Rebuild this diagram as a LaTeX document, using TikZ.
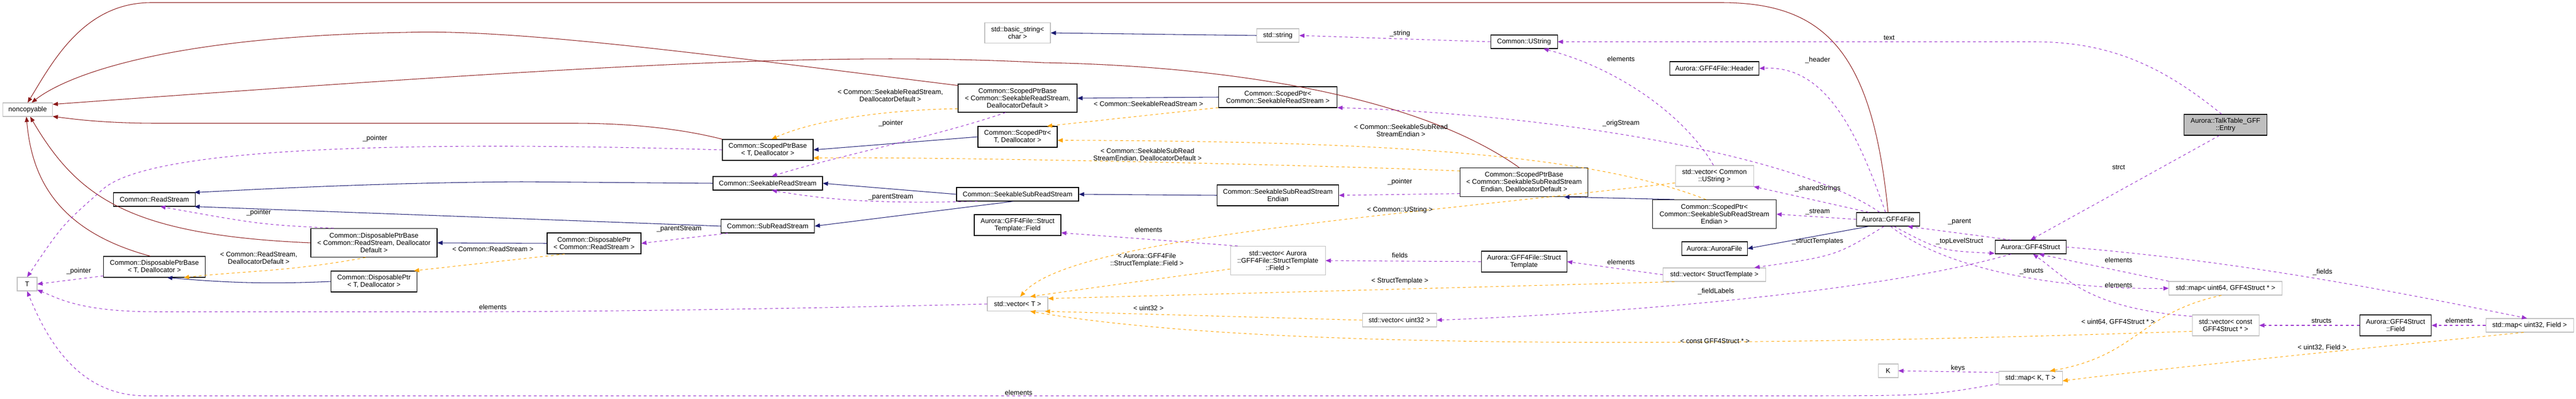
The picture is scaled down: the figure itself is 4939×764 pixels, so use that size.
\documentclass[tikz,border=0pt]{standalone}
\usepackage{fontspec}
\setmainfont{Liberation Sans}
\usetikzlibrary{arrows.meta}

\definecolor{inhcol}{HTML}{8B1A1A}
\definecolor{pubcol}{HTML}{191970}
\definecolor{usecol}{HTML}{9A32CD}
\definecolor{tplcol}{HTML}{FFA500}
\definecolor{extcol}{HTML}{BFBFBF}

\tikzset{
  box/.style={draw, line width=0.6pt, align=center, inner sep=1pt,
    font=\fontsize{7.4}{8}\selectfont},
  cls/.style={box, draw=black},
  ext/.style={box, draw=extcol},
  cur/.style={box, draw=black, fill=extcol},
  wh/.style 2 args={minimum width=#1*0.02cm, minimum height=#2*0.02cm},
  lbl/.style={font=\fontsize{7.4}{8}\selectfont, align=center, inner sep=0pt},
  tip/.style={-{Triangle[length=0.2cm,width=0.16cm]}},
  inh/.style={tip, draw=inhcol, fill=none, line width=0.6pt},
  pub/.style={tip, draw=pubcol, line width=0.6pt},
  use/.style={tip, draw=usecol, dash pattern=on 3pt off 3pt, line width=0.6pt},
  tpl/.style={tip, draw=tplcol, dash pattern=on 3pt off 3pt, line width=0.6pt},
}

\begin{document}
\begin{tikzpicture}[x=0.02cm, y=-0.02cm]
   \useasboundingbox (0,0) rectangle (4939,764);
   % classes
   \node[ext, wh={95}{26}]  (ncopy)    at (53,210)   {noncopyable};
   \node[ext, wh={38}{26}]  (tT)       at (52,544)   {T};
   \node[cls, wh={157}{26}] (readStr)  at (296,382)  {Common::ReadStream};
   \node[cls, wh={195}{40}] (dpbT)     at (296,511)  {Common::DisposablePtrBase\\< T, Deallocator >};
   \node[cls, wh={242}{55}] (dpbRS)    at (717,465)  {Common::DisposablePtrBase\\< Common::ReadStream, Deallocator\\Default >};
   \node[cls, wh={165}{40}] (dpT)      at (717,539)  {Common::DisposablePtr\\< T, Deallocator >};
   \node[cls, wh={180}{40}] (dpRS)     at (1139,466) {Common::DisposablePtr\\< Common::ReadStream >};
   \node[cls, wh={174}{40}] (spbT)     at (1472,287) {Common::ScopedPtrBase\\< T, Deallocator >};
   \node[cls, wh={210}{26}] (seekRS)   at (1472,351) {Common::SeekableReadStream};
   \node[cls, wh={179}{26}] (subRS)    at (1472,433) {Common::SubReadStream};
   \node[ext, wh={126}{39}] (basicStr) at (1951,63)  {std::basic\_string<\\char >};
   \node[cls, wh={228}{54}] (spbSRS)   at (1951,188) {Common::ScopedPtrBase\\< Common::SeekableReadStream,\\DeallocatorDefault >};
   \node[cls, wh={152}{40}] (spT)      at (1951,262) {Common::ScopedPtr<\\T, Deallocator >};
   \node[cls, wh={234}{26}] (seekSub)  at (1951,372) {Common::SeekableSubReadStream};
   \node[cls, wh={166}{40}] (stField)  at (1951,431) {Aurora::GFF4File::Struct\\Template::Field};
   \node[ext, wh={116}{27}] (vecT)     at (1951,582) {std::vector< T >};
   \node[ext, wh={81}{26}]  (stdStr)   at (2450,68)  {std::string};
   \node[cls, wh={227}{40}] (spSRS)    at (2450,186) {Common::ScopedPtr<\\Common::SeekableReadStream >};
   \node[cls, wh={233}{40}] (sseEnd)   at (2450,374) {Common::SeekableSubReadStream\\Endian};
   \node[ext, wh={182}{55}] (vecField) at (2450,499) {std::vector< Aurora\\::GFF4File::StructTemplate\\::Field >};
   \node[ext, wh={142}{26}] (vecU32)   at (2683,613) {std::vector< uint32 >};
   \node[cls, wh={128}{26}] (ustr)     at (2922,80)  {Common::UString};
   \node[cls, wh={245}{55}] (spbSSE)   at (2922,349) {Common::ScopedPtrBase\\< Common::SeekableSubReadStream\\Endian, DeallocatorDefault >};
   \node[cls, wh={164}{40}] (structTpl) at (2922,501) {Aurora::GFF4File::Struct\\Template};
   \node[cls, wh={171}{26}] (header)   at (3287,131) {Aurora::GFF4File::Header};
   \node[ext, wh={150}{40}] (vecUStr)  at (3287,337) {std::vector< Common\\::UString >};
   \node[cls, wh={237}{55}] (spSSE)    at (3287,410) {Common::ScopedPtr<\\Common::SeekableSubReadStream\\Endian >};
   \node[cls, wh={126}{26}] (auroraFile) at (3287,476) {Aurora::AuroraFile};
   \node[ext, wh={197}{26}] (vecTpl)   at (3287,526) {std::vector< StructTemplate >};
   \node[cls, wh={121}{26}] (gffFile)  at (3620,420) {Aurora::GFF4File};
   \node[ext, wh={38}{26}]  (keyK)     at (3620,710) {K};
   \node[cls, wh={136}{26}] (gffStruct) at (3893,473) {Aurora::GFF4Struct};
   \node[ext, wh={122}{26}] (mapKT)    at (3893,724) {std::map< K, T >};
   \node[cur, wh={159}{40}] (entry)    at (4267,239) {Aurora::TalkTable\_GFF\\::Entry};
   \node[ext, wh={217}{26}] (mapU64)   at (4267,552) {std::map< uint64, GFF4Struct * >};
   \node[ext, wh={128}{40}] (vecConst) at (4267,623) {std::vector< const\\GFF4Struct * >};
   \node[cls, wh={137}{40}] (stField2) at (4593,623) {Aurora::GFF4Struct\\::Field};
   \node[ext, wh={168}{26}] (mapU32)   at (4850,623) {std::map< uint32, Field >};

   % inheritance from noncopyable
   \draw[inh] (gffFile.north) .. controls (3590,100) and (3500,5) .. (3300,5) -- (290,5) .. controls (160,5) and (100,120) .. (ncopy.north);
   \draw[inh] (spbSRS.168) .. controls (1400,110) and (1000,55) .. (780,62) .. controls (300,70) and (120,150) .. (ncopy.60);
   \draw[inh] (spbSSE.108) .. controls (2700,170) and (2300,125) .. (2000,120) .. controls (1600,100) and (1200,120) .. (ncopy.12);
   \draw[inh] (spbT.north west) .. controls (1300,245) and (1200,236) .. (1100,236) -- (300,236) .. controls (200,236) and (140,228) .. (ncopy.-15);
   \draw[inh] (dpbRS.west) .. controls (250,450) and (150,380) .. (ncopy.-70);
   \draw[inh] (dpbT.110) .. controls (100,440) and (60,330) .. (ncopy.-100);

   % public inheritance
   \draw[pub] (spSRS.west) -- (spbSRS.east);
   \draw[pub] (spT.west) -- (spbT.east);
   \draw[pub] (seekRS.west) -- (1000,348) .. controls (700,350) and (450,365) .. (readStr.10);
   \draw[pub] (subRS.west) -- (readStr.-10);
   \draw[pub] (seekSub.west) -- (seekRS.east);
   \draw[pub] (seekSub.-120) -- (subRS.east);
   \draw[pub] (sseEnd.west) -- (seekSub.east);
   \draw[pub] (spSSE.160) -- (spbSSE.-20);
   \draw[pub] (dpRS.west) -- (dpbRS.east);
   \draw[pub] (dpT.west) .. controls (500,545) and (420,540) .. (dpbT.-40);
   \draw[pub] (stdStr.west) -- (basicStr.east);
   \draw[pub] (gffFile.-160) -- (auroraFile.east);

   % usage
   \draw[use] (spbT.west) .. controls (800,270) and (300,280) .. (200,360) .. controls (120,430) .. (tT.north);
   \draw[use] (dpbRS.160) .. controls (500,430) .. (readStr.-50);
   \draw[use] (dpbT.-170) -- (tT.east);
   \draw[use] (spbSRS.-130) .. controls (1800,260) and (1600,300) .. (seekRS.60);
   \draw[use] (seekSub.-170) .. controls (1700,390) and (1600,385) .. (seekRS.-60);
   \draw[use] (subRS.-170) -- (dpRS.east);
   \draw[use] (spbSSE.-170) -- (sseEnd.east);
   \draw[use] (vecT.west) .. controls (1500,592) and (1100,597) .. (900,597) -- (300,597) .. controls (150,597) and (110,570) .. (tT.-30);
   \draw[use] (mapKT.-170) .. controls (3700,758) .. (3400,758) -- (280,758) .. controls (150,758) and (90,650) .. (tT.south);
   \draw[use] (ustr.west) -- (stdStr.east);
   \draw[use] (entry.110) .. controls (4150,130) and (4050,80) .. (3900,80) -- (ustr.east);
   \draw[use] (vecUStr.95) .. controls (3230,220) and (3100,130) .. (ustr.-20);
   \draw[use] (gffFile.110) .. controls (3560,250) and (3500,125) .. (header.east);
   \draw[use] (gffFile.140) .. controls (3450,300) and (3000,220) .. (spSRS.-10);
   \draw[use] (gffFile.160) -- (vecUStr.-15);
   \draw[use] (gffFile.west) -- (spSSE.east);
   \draw[use] (gffStruct.160) -- (gffFile.-20);
   \draw[use] (gffFile.-50) .. controls (3720,480) .. (gffStruct.-170);
   \draw[use] (gffFile.-120) .. controls (3520,490) .. (vecTpl.10);
   \draw[use] (gffFile.-70) .. controls (3750,530) and (4000,555) .. (mapU64.west);
   \draw[use] (vecTpl.west) -- (structTpl.east);
   \draw[use] (structTpl.west) -- (vecField.east);
   \draw[use] (vecField.160) -- (stField.-10);
   \draw[use] (gffStruct.-160) .. controls (3600,560) and (3100,600) .. (vecU32.east);
   \draw[use] (entry.-120) -- (gffStruct.north);
   \draw[use] (mapU64.north west) -- (gffStruct.-40);
   \draw[use] (vecConst.165) .. controls (4000,590) and (3960,530) .. (gffStruct.-70);
   \draw[use] (gffStruct.east) .. controls (4300,500) and (4600,560) .. (mapU32.110);
   \draw[use] (stField2.west) -- (vecConst.east);
   \draw[use] (mapU32.west) -- (stField2.east);
   \draw[use] (mapKT.170) -- (keyK.east);

   % template instances
   \draw[tpl] (spbSRS.-170) .. controls (1700,210) and (1560,230) .. (spbT.70);
   \draw[tpl] (spbSSE.170) .. controls (2500,315) and (1800,300) .. (spbT.-10);
   \draw[tpl] (spSRS.-170) -- (spT.20);
   \draw[tpl] (spSSE.120) .. controls (3060,300) and (2700,270) .. (spT.-5);
   \draw[tpl] (dpbRS.-120) .. controls (560,520) and (450,520) .. (dpbT.-20);
   \draw[tpl] (dpRS.-160) -- (dpT.15);
   \draw[tpl] (vecUStr.-170) .. controls (2600,420) and (2050,460) .. (vecT.70);
   \draw[tpl] (vecField.-170) .. controls (2250,530) and (2100,550) .. (vecT.30);
   \draw[tpl] (vecTpl.-170) -- (vecT.10);
   \draw[tpl] (vecU32.west) -- (vecT.-15);
   \draw[tpl] (vecConst.-170) .. controls (3300,665) and (2400,670) .. (vecT.-30);
   \draw[tpl] (mapU64.-120) .. controls (4100,600) and (4100,680) .. (mapKT.20);
   \draw[tpl] (mapU32.-130) .. controls (4600,660) and (4100,710) .. (mapKT.-5);

   % edge labels
   \node[lbl] (lA1) at (719,265)  {\_pointer};
   \node[lbl] (lA2) at (496,407)  {\_pointer};
   \node[lbl] (lA3) at (496,494)  {< Common::ReadStream,\\DeallocatorDefault >};
   \node[lbl] (lA4) at (151,519)  {\_pointer};
   \node[lbl] (lA5) at (945,588)  {elements};
   \node[lbl] (lA6) at (945,477)  {< Common::ReadStream >};
   \node[lbl] (lB1) at (1707,183) {< Common::SeekableReadStream,\\DeallocatorDefault >};
   \node[lbl] (lB2) at (1708,236) {\_pointer};
   \node[lbl] (lB3) at (1708,377) {\_parentStream};
   \node[lbl] (lB4) at (1302,438) {\_parentStream};
   \node[lbl] (lB5) at (1953,752) {elements};
   \node[lbl] (lC1) at (2202,199) {< Common::SeekableReadStream >};
   \node[lbl] (lC2) at (2200,297) {< Common::SeekableSubRead\\StreamEndian, DeallocatorDefault >};
   \node[lbl] (lC3) at (2202,440) {elements};
   \node[lbl] (lC4) at (2199,498) {< Aurora::GFF4File\\::StructTemplate::Field >};
   \node[lbl] (lC5) at (2202,590) {< uint32 >};
   \node[lbl] (lD1) at (2684,64)  {\_string};
   \node[lbl] (lD2) at (2686,250) {< Common::SeekableSubRead\\StreamEndian >};
   \node[lbl] (lD3) at (2684,348) {\_pointer};
   \node[lbl] (lD4) at (2684,402) {< Common::UString >};
   \node[lbl] (lD5) at (2684,489) {fields};
   \node[lbl] (lD6) at (2684,538) {< StructTemplate >};
   \node[lbl] (lE1) at (3622,72)  {text};
   \node[lbl] (lE2) at (3108,113) {elements};
   \node[lbl] (lE3) at (3485,115) {\_header};
   \node[lbl] (lE4) at (3108,236) {\_origStream};
   \node[lbl] (lE5) at (3485,361) {\_sharedStrings};
   \node[lbl] (lE6) at (3485,406) {\_stream};
   \node[lbl] (lE7) at (3757,425) {\_parent};
   \node[lbl] (lE8) at (3485,462) {\_structTemplates};
   \node[lbl] (lE9) at (3757,462) {\_topLevelStruct};
   \node[lbl] (lE10) at (3108,502) {elements};
   \node[lbl] (lE11) at (3895,520) {\_structs};
   \node[lbl] (lE12) at (3290,558) {\_fieldLabels};
   \node[lbl] (lE13) at (3288,653) {< const GFF4Struct * >};
   \node[lbl] (lE14) at (3754,705) {keys};
   \node[lbl] (lF1) at (4062,320) {strct};
   \node[lbl] (lF2) at (4062,498) {elements};
   \node[lbl] (lF3) at (4453,521) {\_fields};
   \node[lbl] (lF4) at (4062,546) {elements};
   \node[lbl] (lF5) at (4061,617) {< uint64, GFF4Struct * >};
   \node[lbl] (lF6) at (4451,614) {structs};
   \node[lbl] (lF7) at (4715,614) {elements};
   \node[lbl] (lF8) at (4452,666) {< uint32, Field >};
\end{tikzpicture}
\end{document}
